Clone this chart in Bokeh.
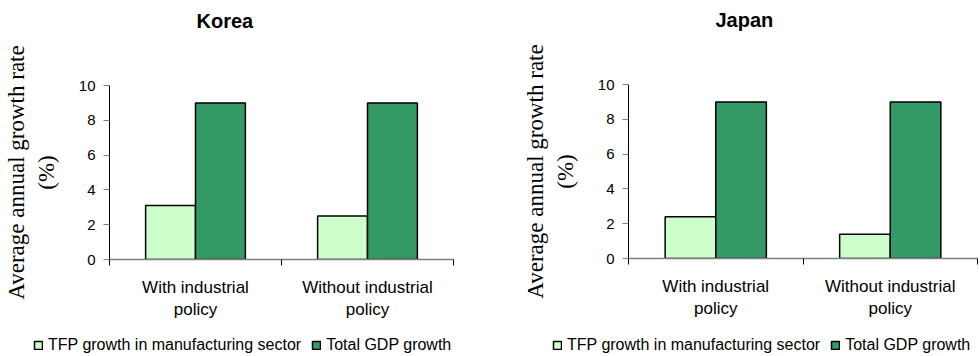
from bokeh.plotting import figure
from bokeh.models import (Range1d, FixedTicker, ColumnDataSource, Legend, LegendItem)
from bokeh.transform import dodge
from bokeh.layouts import row, column
from bokeh.embed import file_html
from bokeh.resources import INLINE

# ---- data ----
categories = ["With industrial\npolicy", "Without industrial\npolicy"]
korea_tfp = [3.1, 2.5]
korea_gdp = [9.0, 9.0]
japan_tfp = [2.4, 1.4]
japan_gdp = [9.0, 9.0]
series_names = ["TFP growth in manufacturing sector", "Total GDP growth"]
y_ticks = [0, 2, 4, 6, 8, 10]

LIGHT = "#CCFFCC"
DARK = "#339966"
SANS = "Liberation Sans"
SERIF = "Liberation Serif"
CHART_H = 334
LEG_H = 22
BW = 0.29


def bars(fig, src, visible=True):
    r1 = fig.vbar(x=dodge("pos", -BW / 2), top="tfp", width=BW, source=src,
                  fill_color=LIGHT, line_color="black", line_width=1.5, visible=visible)
    r2 = fig.vbar(x=dodge("pos", BW / 2), top="gdp", width=BW, source=src,
                  fill_color=DARK, line_color="black", line_width=1.5, visible=visible)
    return r1, r2


def make_panel(title, tfp, gdp, border_left, border_right, border_top,
               frame_bottom, legend_x):
    n = len(categories)
    centres = [i + 0.5 for i in range(n)]  # category slot centres
    src = ColumnDataSource(dict(pos=centres, cat=categories, tfp=tfp, gdp=gdp))
    p = figure(width=490, height=CHART_H, x_range=Range1d(0, n),
               y_range=Range1d(0, 10),
               output_backend="svg", toolbar_location=None,
               min_border_left=border_left, min_border_right=border_right,
               min_border_top=border_top,
               min_border_bottom=CHART_H - frame_bottom)
    p.outline_line_color = None
    p.xgrid.grid_line_color = None
    p.ygrid.grid_line_color = None
    p.background_fill_color = "white"
    bars(p, src)

    # title (blank lines lift the title towards the top of the figure)
    p.title.text = title + "\n\n"
    p.title.align = "left"
    p.title.offset = 87
    p.title.vertical_align = "top"
    p.title.standoff = 16
    p.title.text_font = SANS
    p.title.text_font_size = "20px"
    p.title.text_font_style = "bold"
    p.title.text_color = "black"

    # y axis
    ya = p.yaxis[0]
    ya.ticker = FixedTicker(ticks=y_ticks)
    ya.axis_line_color = "black"
    ya.major_tick_line_color = "#808080"
    ya.major_tick_out = 6
    ya.major_tick_in = 0
    ya.minor_tick_line_color = None
    ya.major_label_standoff = 8
    ya.major_label_text_font = SANS
    ya.major_label_text_font_size = "15px"
    ya.major_label_text_color = "black"
    ya.axis_label = "Average annual growth rate\n(%)"
    ya.axis_label_text_font = SERIF
    ya.axis_label_text_font_size = "23px"
    ya.axis_label_text_font_style = "normal"
    ya.axis_label_text_color = "black"
    ya.axis_label_standoff = 17

    # x axis: labels at category centres, ticks at category boundaries
    xa = p.xaxis[0]
    xa.ticker = FixedTicker(ticks=centres, minor_ticks=list(range(n + 1)))
    xa.major_label_overrides = {c: lab for c, lab in zip(centres, categories)}
    xa.axis_line_color = "#808080"
    xa.axis_line_width = 1.5
    xa.major_tick_out = 0
    xa.major_tick_in = 0
    xa.minor_tick_out = 6
    xa.minor_tick_in = 0
    xa.minor_tick_line_color = "black"
    xa.major_label_standoff = 12
    xa.major_label_text_font = SANS
    xa.major_label_text_font_size = "17px"
    xa.major_label_text_color = "black"

    # legend strip underneath the chart
    lf = figure(width=490, height=LEG_H, x_range=Range1d(0, n), y_range=Range1d(0, 10),
                x_axis_location=None, y_axis_location=None,
                output_backend="svg", toolbar_location=None, min_border=0)
    if "frame_align" in lf.properties():
        lf.frame_align = False
    lf.outline_line_color = None
    lf.xgrid.grid_line_color = None
    lf.ygrid.grid_line_color = None
    g1, g2 = bars(lf, src, visible=False)
    legend = Legend(items=[LegendItem(label=series_names[0], renderers=[g1]),
                           LegendItem(label=series_names[1], renderers=[g2])],
                    orientation="horizontal", location=(legend_x, 2),
                    padding=0, margin=0, spacing=10, label_standoff=5,
                    glyph_width=10, glyph_height=10, label_height=18,
                    label_text_font=SANS, label_text_font_size="16px",
                    label_text_color="black", inactive_fill_alpha=0,
                    border_line_color=None, background_fill_alpha=0)
    lf.add_layout(legend, "center")
    return column(p, lf, spacing=0)


pk = make_panel("Korea", korea_tfp, korea_gdp, 107, 37, 85, 259, 33)
pj = make_panel("Japan", japan_tfp, japan_gdp, 138, 3, 83, 258, 62)

layout = row(pk, pj, spacing=0)
open("out.html", "w").write(file_html(layout, INLINE))
